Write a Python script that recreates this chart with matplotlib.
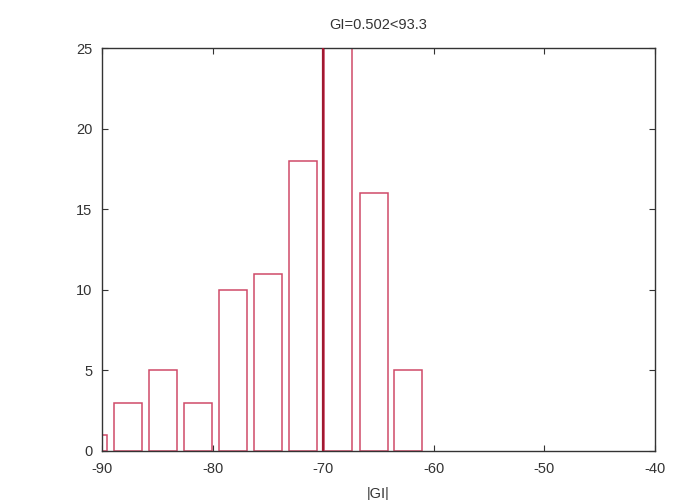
import matplotlib
matplotlib.use("Agg")
import matplotlib.pyplot as plt

# histogram bin centres and counts
bin_centers = [-90.82, -87.65, -84.46, -81.30, -78.15, -75.00, -71.80, -68.65, -65.40, -62.30]
counts = [1, 3, 5, 3, 10, 11, 18, 28, 16, 5]
bar_width = 2.55
threshold = -70

title_text = "GI=0.502<93.3"
xlabel_text = "|GI|"
xticks = [-90, -80, -70, -60, -50, -40]
yticks = [0, 5, 10, 15, 20, 25]

plt.rcParams['font.family'] = ['Liberation Sans', 'DejaVu Sans']

fig = plt.figure(figsize=(6.82, 5.0), dpi=100)
ax = fig.add_axes([0.1496, 0.098, 0.8108, 0.806])

ax.bar(bin_centers, counts, width=bar_width, facecolor='white',
       edgecolor='#cf4a68', linewidth=1.1, zorder=2)
ax.axvline(threshold, color='#a01830', linewidth=1.6, zorder=3)

ax.set_xlim(-90, -40)
ax.set_ylim(0, 25)
ax.set_xticks(xticks)
ax.set_yticks(yticks)
ax.set_xticklabels([str(t) for t in xticks])
ax.set_yticklabels([str(t) for t in yticks])

ax.tick_params(direction='in', top=True, right=True, length=4, width=0.8,
               labelsize=10.5, colors='#333333')
ax.tick_params(axis='x', pad=8)
ax.tick_params(axis='y', pad=7)
for side, s in ax.spines.items():
    s.set_color('#333333')
    s.set_linewidth(1.0)

ax.set_title(title_text, fontsize=10.5, color='#333333', pad=14)
ax.set_xlabel(xlabel_text, fontsize=10.5, color='#333333', labelpad=8)

fig.savefig("out.png", dpi=100, facecolor='white')
